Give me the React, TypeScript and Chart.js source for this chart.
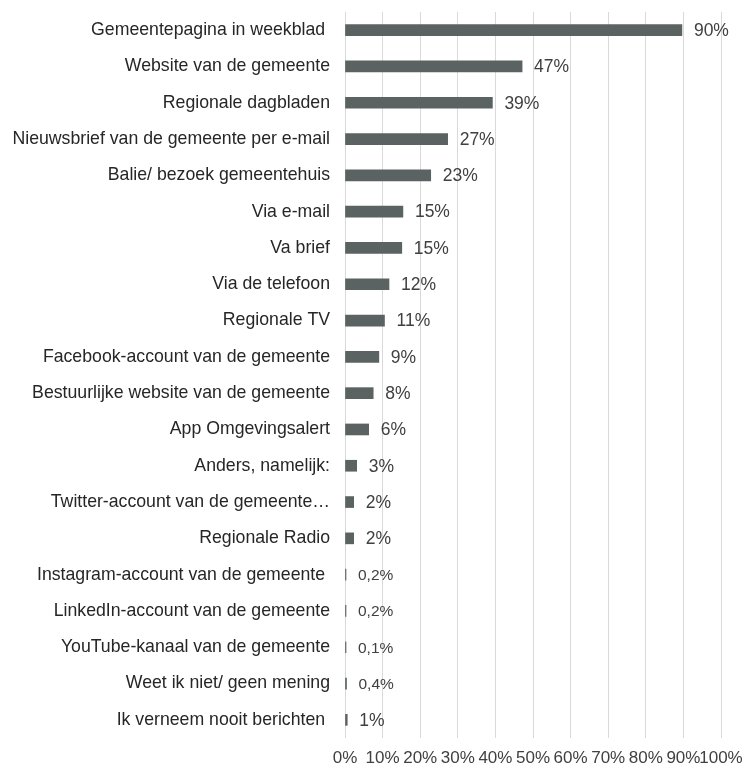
import React, { useEffect, useRef } from "react";
import { Chart, registerables } from "chart.js";

Chart.register(...registerables);

const categories = [
  "Gemeentepagina in weekblad ",
  "Website van de gemeente",
  "Regionale dagbladen",
  "Nieuwsbrief van de gemeente per e-mail",
  "Balie/ bezoek gemeentehuis",
  "Via e-mail",
  "Va brief",
  "Via de telefoon",
  "Regionale TV",
  "Facebook-account van de gemeente",
  "Bestuurlijke website van de gemeente",
  "App Omgevingsalert",
  "Anders, namelijk:",
  "Twitter-account van de gemeente…",
  "Regionale Radio",
  "Instagram-account van de gemeente ",
  "LinkedIn-account van de gemeente",
  "YouTube-kanaal van de gemeente",
  "Weet ik niet/ geen mening",
  "Ik verneem nooit berichten ",
];

const values = [89.6, 47.1, 39.2, 27.3, 22.8, 15.4, 15.1, 11.7, 10.5, 9.0, 7.5, 6.3, 3.1, 2.3, 2.3, 0.2, 0.2, 0.1, 0.4, 0.6];

const valueLabels = [
  "90%", "47%", "39%", "27%", "23%", "15%", "15%", "12%", "11%", "9%",
  "8%", "6%", "3%", "2%", "2%", "0,2%", "0,2%", "0,1%", "0,4%", "1%",
];

const xTicks = [0, 10, 20, 30, 40, 50, 60, 70, 80, 90, 100];

const FONT = "'Liberation Sans', Arial, sans-serif";

const valueLabelPlugin = {
  id: "valueLabels",
  afterDatasetsDraw(chart: any) {
    const ctx = chart.ctx;
    const meta = chart.getDatasetMeta(0);
    ctx.save();
    ctx.fillStyle = "#404040";
    ctx.textBaseline = "middle";
    ctx.textAlign = "left";
    meta.data.forEach((bar: any, i: number) => {
      const txt = valueLabels[i];
      const small = txt.includes(",");
      ctx.font = `${small ? 15.5 : 17.5}px ${FONT}`;
      ctx.fillText(txt, bar.x + 12, bar.y + 1);
    });
    ctx.restore();
  },
};

export default function App() {
  const ref = useRef<HTMLCanvasElement | null>(null);
  useEffect(() => {
    if (!ref.current) return;
    const chart = new Chart(ref.current, {
      type: "bar",
      data: {
        labels: categories,
        datasets: [
          {
            data: values,
            backgroundColor: "#5a6361",
            barThickness: 11,
            minBarLength: 1,
          },
        ],
      },
      options: {
        indexAxis: "y",
        animation: false,
        responsive: false,
        maintainAspectRatio: false,
        layout: { padding: { top: 12, right: 26, bottom: 0, left: 0 } },
        plugins: {
          legend: { display: false },
          tooltip: { enabled: false },
        },
        scales: {
          x: {
            type: "linear",
            min: 0,
            max: 100,
            afterBuildTicks: (scale: any) => {
              scale.ticks = xTicks.map((v) => ({ value: v }));
            },
            afterFit: (scale: any) => {
              scale.height = 30;
              scale.paddingLeft = 0;
              scale.paddingRight = 0;
            },
            ticks: {
              callback: (v: any) => `${v}%`,
              color: "#404040",
              font: { size: 17, family: FONT },
              padding: 10,
              maxRotation: 0,
              autoSkip: false,
            },
            grid: { color: "#d9d9d9", lineWidth: 1, drawTicks: false },
            border: { display: false },
          },
          y: {
            afterFit: (scale: any) => {
              scale.width = 345;
              scale.paddingTop = 0;
              scale.paddingBottom = 0;
            },
            ticks: {
              color: "#262626",
              font: { size: 17.7, family: FONT },
              padding: 15,
              autoSkip: false,
            },
            grid: { display: false, drawTicks: false },
            border: { display: false },
          },
        },
      },
      plugins: [valueLabelPlugin],
    });
    return () => chart.destroy();
  }, []);
  return (
    <div style={{ position: "absolute", left: 0, top: 0, width: 747, height: 768, background: "#fff" }}>
      <canvas ref={ref} width={747} height={768} style={{ width: 747, height: 768 }} />
    </div>
  );
}
